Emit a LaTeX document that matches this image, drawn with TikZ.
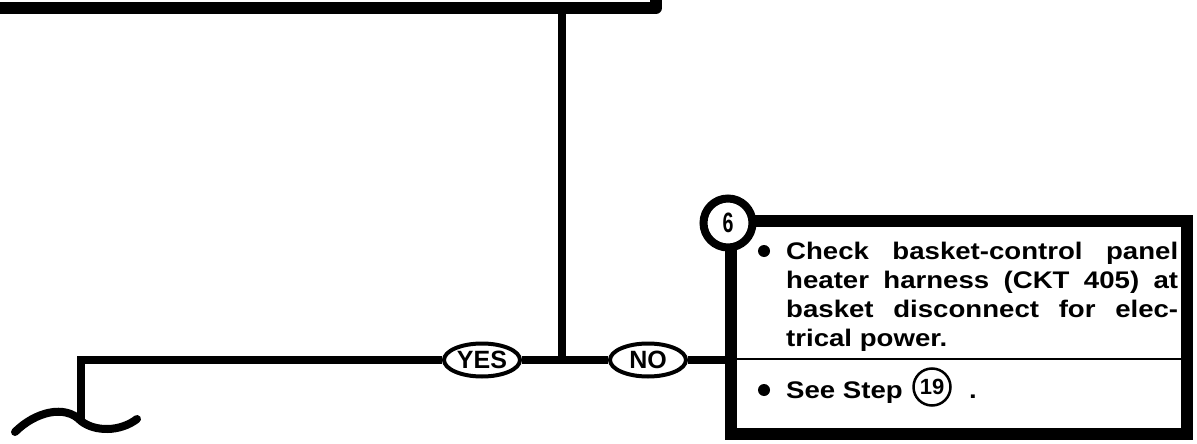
\documentclass[tikz,border=0pt]{standalone}
\usepackage{fontspec}
\setmainfont{Liberation Sans}
\newfontfamily\boxfont[FakeStretch=1.15]{Liberation Sans Bold}
\newfontfamily\numfont[FakeStretch=0.7]{Liberation Sans Bold}
\usetikzlibrary{shapes.geometric}
\begin{document}
\begin{tikzpicture}[x=1pt,y=-1pt,
  wire/.style={line width=8pt},
  boxline/.style={line width=12pt},
  oval/.style={ellipse, draw, line width=4pt, fill=white, minimum width=76pt,
    minimum height=33pt, inner sep=0pt, font=\fontsize{25}{25}\selectfont\bfseries},
  txt/.style={anchor=base west, inner sep=0pt, font=\boxfont\fontsize{24}{29}\selectfont},
  dotmark/.style={circle, fill=black, minimum size=12pt, inner sep=0pt},
  stepnum/.style={circle, draw, fill=white, inner sep=0pt}]
\useasboundingbox (0,0) rectangle (1197,444);
\clip (0,0) rectangle (1197,444);
% top box edge (cropped)
\draw[boxline, line join=round] (-20,8) -- (656,8) -- (656,-20);
\coordinate (top) at (562,8);
\coordinate (junc) at (562,360);
\coordinate (lc) at (81,360);
\coordinate (ld) at (81,421);
% ovals
\node[oval] (yes) at (482,360) {YES};
\node[oval] (no) at (648,360) {NO};
% step box
\node[draw, boxline, inner sep=0pt, minimum width=456pt, minimum height=213pt] (box) at (959,327.5) {};
\draw[line width=2pt] (731,359) -- (1187,359);
% connectors
\draw[wire] (top) -- (junc);
\draw[wire] (yes.east) -- (junc) -- (no.west);
\draw[wire] (no.east) -- (no.east -| box.west);
\draw[wire] (yes.west) -- (lc) -- (ld);
% break symbol
\draw[wire, line cap=round] (15,432) .. controls (35,412) and (65,404) .. (ld)
  .. controls (95,432) and (120,432) .. (137,419);
% step number
\node[stepnum, line width=8pt, minimum size=49pt, font=\numfont\fontsize{28}{28}\selectfont] (s6) at (728,223) {6};
% text
\node[dotmark] (b1) at (764,251) {};
\node[txt] (l1) at (786,259) {\makebox[392pt][s]{Check basket-control panel}};
\node[txt] (l2) at (786,288) {\makebox[392pt][s]{heater harness (CKT 405) at}};
\node[txt] (l3) at (786,317) {\makebox[392pt][s]{basket disconnect for elec-}};
\node[txt] (l4) at (786,346) {trical power.};
\node[dotmark] (b2) at (764,390) {};
\node[txt] (see) at (786,398) {See Step};
\node[stepnum, line width=2.5pt, minimum size=37pt, font=\fontsize{22}{22}\selectfont\bfseries] (c19) at (932,387) {19};
\node[txt] (stop) at (969,398) {.};
\end{tikzpicture}
\end{document}
